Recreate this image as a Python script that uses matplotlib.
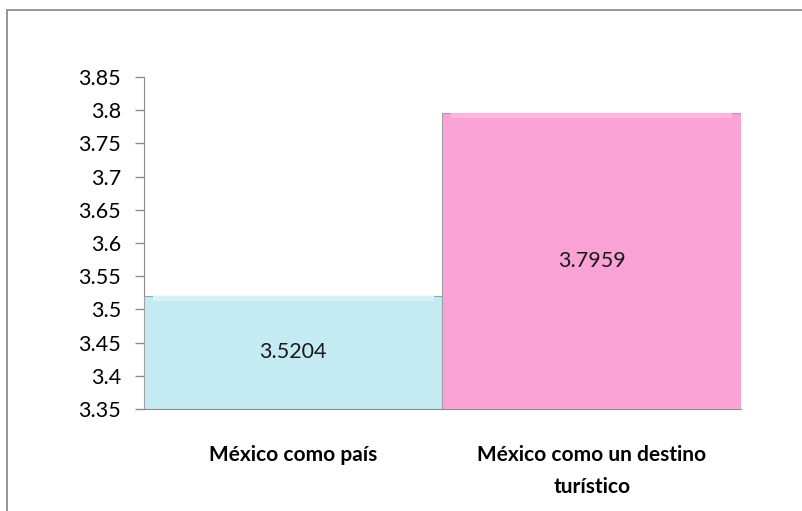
import matplotlib
matplotlib.use('Agg')
import matplotlib.pyplot as plt
import matplotlib.patheffects as pe
from matplotlib.patches import Rectangle

categories = ['México como país', 'México como un destino\nturístico']
values = [3.5204, 3.7959]
value_labels = ['3.5204', '3.7959']
yticks = [3.35, 3.4, 3.45, 3.5, 3.55, 3.6, 3.65, 3.7, 3.75, 3.8, 3.85]
ytick_labels = ['3.35', '3.4', '3.45', '3.5', '3.55', '3.6', '3.65', '3.7', '3.75', '3.8', '3.85']

bar_colors = ['#c4eaf4', '#fba3d6']
bevel_colors = ['#d6f1f8', '#fcb6df']
ymin, ymax = 3.35, 3.85

plt.rcParams['font.family'] = ['Lato', 'DejaVu Sans']

fig = plt.figure(figsize=(8.03, 5.11), dpi=100)
fig.patch.set_facecolor('white')

# outer chart frame
fig.add_artist(Rectangle((7 / 803, -0.1), 1.2, 1 - 10 / 511 + 0.1,
                         transform=fig.transFigure, fill=False,
                         edgecolor='#8c8c8c', linewidth=1.3))

ax = fig.add_axes([144 / 803, 1 - 409 / 511, (741 - 144) / 803, (409 - 77) / 511])

shadow = [pe.SimplePatchShadow(offset=(2.5, -2.5), shadow_rgbFace='#606060', alpha=0.45), pe.Normal()]
bars = ax.bar(range(len(values)), [v - ymin for v in values], bottom=ymin, width=1.0,
              color=bar_colors, edgecolor='#a0a0a0', linewidth=0.8, zorder=3)
for b in bars:
    b.set_path_effects(shadow)

# soft bevel strip along the top edge of each bar
for i, v in enumerate(values):
    ax.bar(i, 0.007, bottom=v - 0.0075, width=0.94, color=bevel_colors[i],
           linewidth=0, zorder=4)

for i, v in enumerate(values):
    ax.text(i, (ymin + v) / 2, value_labels[i], ha='center', va='center',
            fontsize=15.5, color='#1a1a1a', zorder=5)

ax.set_xlim(-0.5, len(values) - 0.5)
ax.set_ylim(ymin, ymax)
ax.set_yticks(yticks)
ax.set_yticklabels(ytick_labels, fontsize=15.5)
ax.set_xticks(range(len(values)))
ax.set_xticklabels(categories, fontsize=15, fontweight='bold', linespacing=1.75)
ax.tick_params(axis='x', length=0, pad=26)
ax.tick_params(axis='y', length=6.5, width=1, color='#8c8c8c', pad=10)

for s in ['top', 'right']:
    ax.spines[s].set_visible(False)
ax.spines['left'].set_color('#8c8c8c')
ax.spines['bottom'].set_color('#8c8c8c')

fig.savefig('out.png', dpi=100, facecolor='white')
